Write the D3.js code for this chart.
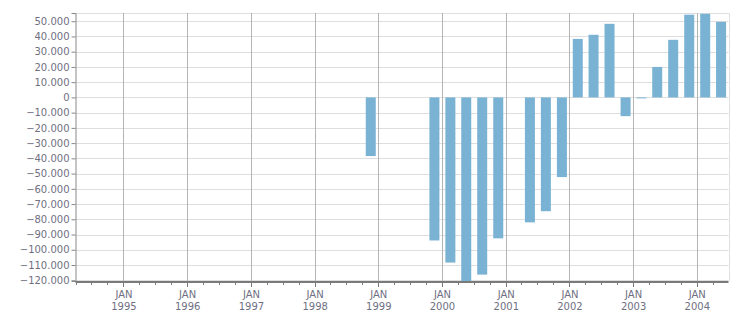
<!DOCTYPE html>
<html>
<head>
<meta charset="utf-8">
<script src="https://cdn.jsdelivr.net/npm/d3@7"></script>
<style>
  body { margin: 0; background: #fff; }
  svg text { font-family: "DejaVu Sans", Verdana, sans-serif; font-size: 10px; fill: #6f6f82; }
</style>
</head>
<body>
<div id="chart"></div>
<script>
// quarter start (year-month) of each bar, and its value
const quarters = [
    "1998-10",
    "1999-10", "2000-01", "2000-04", "2000-07", "2000-10",
    "2001-04", "2001-07", "2001-10",
    "2002-01", "2002-04", "2002-07", "2002-10",
    "2003-01", "2003-04", "2003-07", "2003-10",
    "2004-01", "2004-04"
];
const values = [
    -38500,
    -93900, -108400, -120500, -116300, -92500,
    -82000, -74700, -52300,
    38400, 41100, 48300, -12300,
    -500, 20000, 37800, 54300,
    54900, 49600
];
const yTicks = [50000, 40000, 30000, 20000, 10000, 0, -10000, -20000, -30000, -40000, -50000,
    -60000, -70000, -80000, -90000, -100000, -110000, -120000];
const yearTicks = [1995, 1996, 1997, 1998, 1999, 2000, 2001, 2002, 2003, 2004];

const width = 751, height = 313;
const margin = { top: 13, right: 22.5, bottom: 32, left: 75.5 };

const parse = d3.timeParse("%Y-%m");
const data = quarters.map((q, i) => {
    const start = parse(q);
    return { start: start, end: d3.timeMonth.offset(start, 3), value: values[i] };
});

const x = d3.scaleTime()
    .domain([new Date(1994, 3, 1), new Date(2004, 6, 1)])
    .range([margin.left, width - margin.right]);

const y = d3.scaleLinear()
    .domain([-120500, 55400])
    .range([height - margin.bottom, margin.top]);

const svg = d3.select("#chart").append("svg")
    .attr("width", width)
    .attr("height", height);

// horizontal grid
svg.append("g")
    .selectAll("line")
    .data(yTicks)
    .join("line")
    .attr("x1", margin.left)
    .attr("x2", width - margin.right)
    .attr("y1", d => Math.round(y(d)) + 0.5)
    .attr("y2", d => Math.round(y(d)) + 0.5)
    .attr("stroke", "#dedede");

// frame top / right
svg.append("path")
    .attr("d", `M${margin.left},${margin.top + 0.5}H${Math.round(width - margin.right) + 0.5}V${height - margin.bottom}`)
    .attr("fill", "none")
    .attr("stroke", "#dedede");

// vertical grid at January of each year
svg.append("g")
    .selectAll("line")
    .data(yearTicks)
    .join("line")
    .attr("x1", d => Math.round(x(new Date(d, 0, 1))) + 0.5)
    .attr("x2", d => Math.round(x(new Date(d, 0, 1))) + 0.5)
    .attr("y1", margin.top)
    .attr("y2", height - margin.bottom)
    .attr("stroke", "#b4b4b4");

// bars, centred in their quarter
const barW = 10;
svg.append("g")
    .selectAll("rect")
    .data(data)
    .join("rect")
    .attr("x", d => (x(d.start) + x(d.end)) / 2 - barW / 2 + 0.5)
    .attr("width", barW)
    .attr("y", d => y(Math.max(0, d.value)))
    .attr("height", d => Math.max(1, Math.abs(y(d.value) - y(0))))
    .attr("fill", "#7ab2d4");

// y axis
const yAxis = svg.append("g")
    .attr("transform", `translate(${margin.left},0)`)
    .call(d3.axisLeft(y)
        .tickValues(yTicks)
        .tickSize(4)
        .tickPadding(2)
        .tickFormat(d => d3.format(",")(d).replace(/,/g, ".")));
yAxis.select(".domain").attr("stroke", "#888");
yAxis.selectAll(".tick line").attr("stroke", "#888");
yAxis.selectAll("text").attr("fill", null).style("font-size", "10px");

// x axis: quarterly minor ticks, yearly labels
const xAxis = svg.append("g")
    .attr("transform", `translate(0,${height - margin.bottom + 1})`);
xAxis.append("line")
    .attr("x1", margin.left)
    .attr("x2", width - margin.right)
    .attr("stroke", "#7a7a7a")
    .attr("stroke-width", 2);
xAxis.selectAll(".minor")
    .data(d3.timeMonth.every(3).range(x.domain()[0], x.domain()[1]))
    .join("line")
    .attr("class", "minor")
    .attr("x1", d => Math.round(x(d)) + 0.5)
    .attr("x2", d => Math.round(x(d)) + 0.5)
    .attr("y1", 1)
    .attr("y2", d => d.getMonth() === 0 ? 5 : 3)
    .attr("stroke", "#7a7a7a");

const labels = xAxis.selectAll(".lbl")
    .data(yearTicks)
    .join("text")
    .attr("class", "lbl")
    .attr("text-anchor", "middle")
    .attr("transform", d => `translate(${x(new Date(d, 0, 1)) + 0.5},0)`);
labels.append("tspan").attr("x", 0).attr("y", 16).text("JAN");
labels.append("tspan").attr("x", 0).attr("y", 28).text(d => d);
</script>
</body>
</html>
